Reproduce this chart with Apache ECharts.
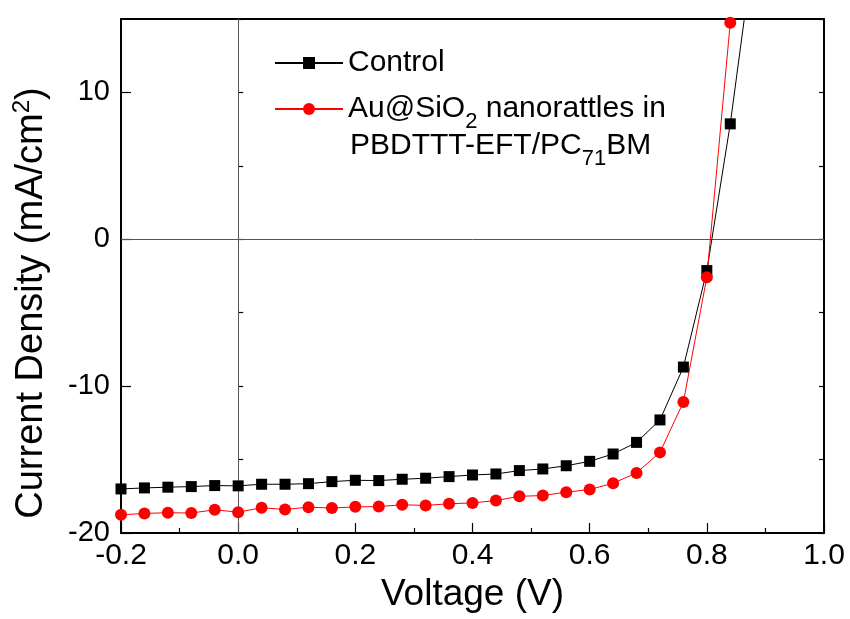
<head>
    <title>J-V curves</title>
    <meta charset="utf-8">
    <script type="text/javascript" src="https://cdn.jsdelivr.net/npm/echarts@6/dist/echarts.min.js"></script>
    <style>
        body { margin: 0; background: #fff; }
    </style>
</head>
<div id="chartmain" style="width:850px; height: 619px;"></div>

<script type="text/javascript">
    // voltage steps (V) and current density (mA/cm2)
    var voltage = [-0.2, -0.16, -0.12, -0.08, -0.04, 0.0, 0.04, 0.08, 0.12, 0.16, 0.2, 0.24, 0.28, 0.32,
        0.36, 0.4, 0.44, 0.48, 0.52, 0.56, 0.6, 0.64, 0.68, 0.72, 0.76, 0.8, 0.84, 0.88];
    var controlJ = [-17.0, -16.93, -16.88, -16.84, -16.77, -16.79, -16.68, -16.68, -16.64, -16.5, -16.41, -16.43, -16.34, -16.27,
        -16.16, -16.05, -15.98, -15.75, -15.64, -15.42, -15.12, -14.62, -13.83, -12.3, -8.7, -2.13, 7.86, 19.8];
    var nanoJ = [-18.76, -18.67, -18.62, -18.64, -18.42, -18.58, -18.28, -18.4, -18.24, -18.3, -18.22, -18.2, -18.08, -18.12,
        -18.01, -17.95, -17.79, -17.5, -17.45, -17.22, -17.04, -16.61, -15.91, -14.51, -11.08, -2.58, 14.75, 30];
    var xTicks = [-0.2, 0.0, 0.2, 0.4, 0.6, 0.8, 1.0];
    var yTicks = [-20, -10, 0, 10];
    var seriesNames = ['Control', 'Au@SiO2 nanorattles in PBDTTT-EFT/PC71BM'];

    var font = 'Liberation Sans';

    function pairs(ys) {
        return voltage.map(function (v, i) { return [v, ys[i]]; });
    }

    var option = {
        animation: false,
        backgroundColor: '#fff',
        grid: { left: 121, right: 26, top: 19, bottom: 86 },
        legend: {
            data: seriesNames,
            orient: 'vertical',
            left: 274,
            top: 48,
            padding: 0,
            itemWidth: 68,
            itemHeight: 15,
            itemGap: 7,
            textStyle: {
                fontFamily: font, fontSize: 30, color: '#000', lineHeight: 30,
                rich: {
                    a: { fontFamily: font, fontSize: 30, color: '#000', lineHeight: 30 },
                    sub: { fontFamily: font, fontSize: 22, color: '#000', lineHeight: 30, padding: [26, 0, 0, 0] }
                }
            },
            formatter: function (name) {
                if (name === seriesNames[1]) return '{a|Au@SiO}{sub|2}{a| nanorattles in}';
                return name;
            }
        },
        graphic: [{
            type: 'text',
            left: 350,
            top: 122,
            style: {
                text: '{a|PBDTTT-EFT/PC}{sub|71}{a|BM}',
                rich: {
                    a: { fontFamily: font, fontSize: 30, fill: '#000', lineHeight: 30 },
                    sub: { fontFamily: font, fontSize: 22, fill: '#000', lineHeight: 30, padding: [26, 0, 0, 0] }
                }
            }
        }],
        xAxis: [{
            type: 'value',
            position: 'bottom',
            min: xTicks[0],
            max: xTicks[xTicks.length - 1],
            interval: 0.2,
            name: 'Voltage (V)',
            nameLocation: 'middle',
            nameGap: 42,
            nameTextStyle: { fontFamily: font, fontSize: 37, color: '#000' },
            axisLine: { show: true, onZero: false, lineStyle: { color: '#000', width: 2 } },
            axisTick: { inside: true, length: 10, lineStyle: { color: '#000', width: 1.2 } },
            minorTick: { show: true, splitNumber: 2, length: 5, lineStyle: { color: '#000', width: 1.2 } },
            axisLabel: {
                margin: 8, fontFamily: font, fontSize: 30, color: '#000',
                formatter: function (v) { return v.toFixed(1); }
            },
            splitLine: { show: false }
        }, {
            type: 'value',
            position: 'top',
            min: xTicks[0],
            max: xTicks[xTicks.length - 1],
            axisLine: { show: true, onZero: false, lineStyle: { color: '#000', width: 2 } },
            axisTick: { show: false },
            axisLabel: { show: false },
            splitLine: { show: false }
        }],
        yAxis: [{
            type: 'value',
            position: 'left',
            min: yTicks[0],
            max: 15,
            interval: 10,
            name: '{a|Current Density (mA/cm}{sup|2}{a|)}',
            nameLocation: 'middle',
            nameGap: 70,
            nameTextStyle: {
                fontFamily: font, fontSize: 38, color: '#000',
                padding: [0, 54, 0, 0],
                rich: {
                    a: { fontFamily: font, fontSize: 38, color: '#000', lineHeight: 38 },
                    sup: { fontFamily: font, fontSize: 24, color: '#000', lineHeight: 38, padding: [0, 0, 20, 0] }
                }
            },
            axisLine: { show: true, onZero: false, lineStyle: { color: '#000', width: 2 } },
            axisTick: { inside: true, length: 10, lineStyle: { color: '#000', width: 1.2 } },
            axisLabel: {
                margin: 11, fontFamily: font, fontSize: 29, color: '#000', showMaxLabel: false,
                formatter: function (v) { return yTicks.indexOf(v) >= 0 ? String(v) : ''; }
            },
            splitLine: { show: false }
        }, {
            type: 'value',
            position: 'left',
            min: yTicks[0],
            max: 15,
            interval: 5,
            axisLine: { show: false },
            axisTick: { inside: true, length: 5, lineStyle: { color: '#000', width: 1.2 } },
            axisLabel: { show: false },
            splitLine: { show: false }
        }, {
            type: 'value',
            position: 'right',
            min: yTicks[0],
            max: 15,
            interval: 5,
            axisLine: { show: true, onZero: false, lineStyle: { color: '#000', width: 2 } },
            axisTick: { inside: true, length: 5, lineStyle: { color: '#000', width: 1.2 } },
            axisLabel: { show: false },
            splitLine: { show: false }
        }],
        series: [{
            name: 'zero',
            type: 'line',
            data: [],
            silent: true,
            markLine: {
                silent: true,
                z: 1,
                symbol: 'none',
                label: { show: false },
                lineStyle: { color: '#555', width: 1, type: 'solid' },
                emphasis: { disabled: true },
                data: [{ xAxis: 0 }, { yAxis: 0 }]
            }
        }, {
            name: seriesNames[0],
            type: 'line',
            data: pairs(controlJ),
            symbol: 'rect',
            symbolSize: 11,
            lineStyle: { color: '#000', width: 1 },
            itemStyle: { color: '#000' }
        }, {
            name: seriesNames[1],
            type: 'line',
            data: pairs(nanoJ),
            symbol: 'circle',
            symbolSize: 12,
            lineStyle: { color: '#ff0000', width: 1 },
            itemStyle: { color: '#ff0000' }
        }]
    };

    var myChart = echarts.init(document.getElementById('chartmain'));
    myChart.setOption(option);
</script>
